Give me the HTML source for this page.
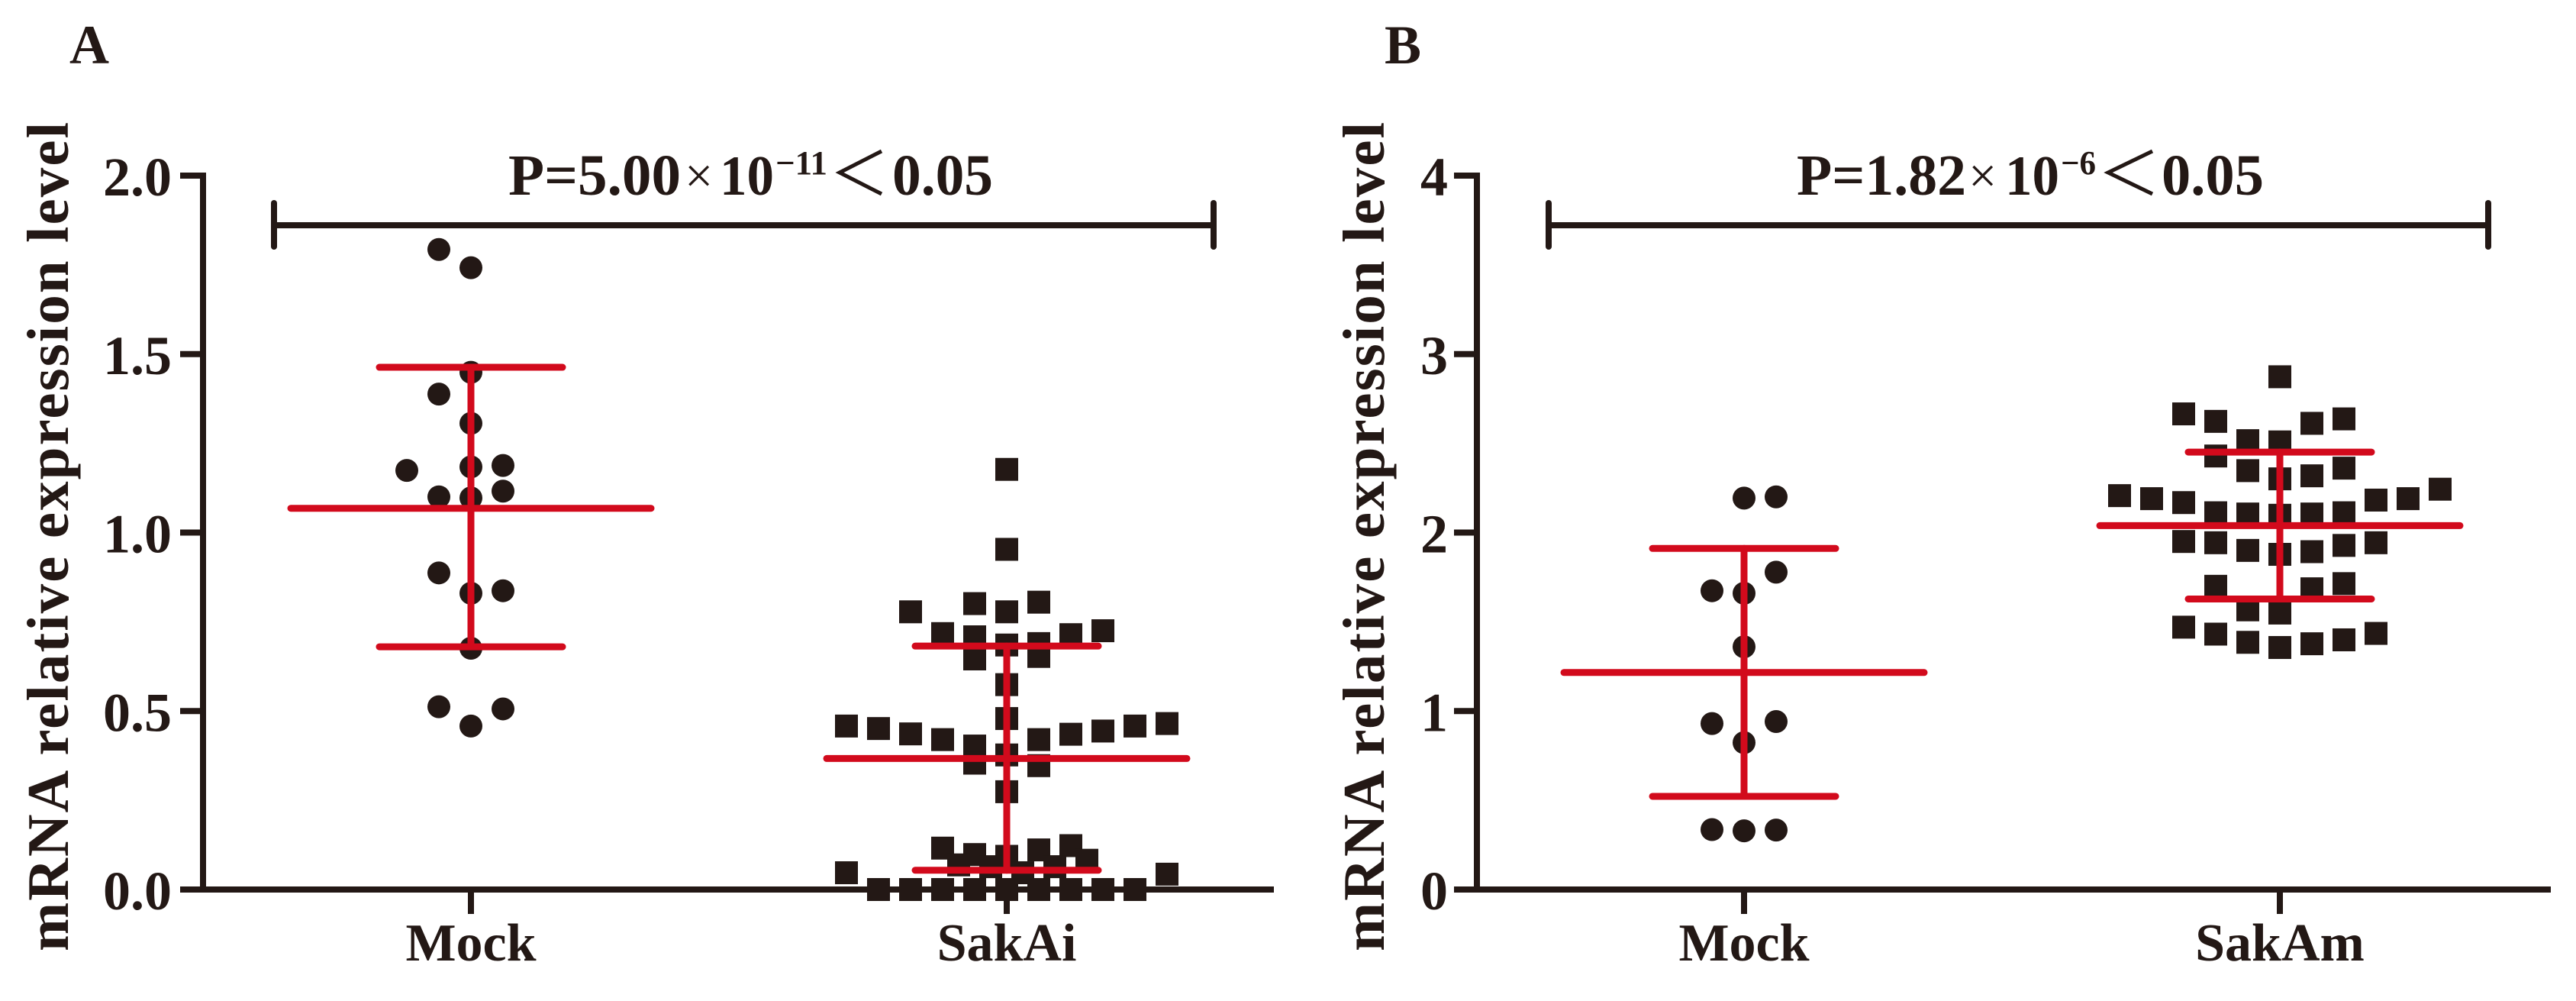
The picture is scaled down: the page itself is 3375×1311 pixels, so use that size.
<!DOCTYPE html>
<html lang="en">
<head>
<meta charset="utf-8">
<title>mRNA relative expression level</title>
<style>
  html, body { margin: 0; padding: 0; background: #fff; width: 3375px; height: 1311px; overflow: hidden; }
  svg { display: block; }
  text { font-family: "Liberation Serif", "Noto Serif CJK SC", serif; fill: #231815; }
  .b { font-weight: 700; }
  .thin { font-weight: 400; }
</style>
</head>
<body>
<svg id="figure" xmlns="http://www.w3.org/2000/svg" width="3375" height="1311" viewBox="0 0 3375 1311">
  <rect width="3375" height="1311" fill="#fff"/>

  <text class="b" x="91" y="83" font-size="72">A</text>
  <text class="b" x="1814" y="83" font-size="72">B</text>

  <text class="b" font-size="77" transform="translate(89,1246) rotate(-90)" textLength="1086" lengthAdjust="spacing">mRNA relative expression level</text>
  <text class="b" font-size="77" transform="translate(1813,1246) rotate(-90)" textLength="1086" lengthAdjust="spacing">mRNA relative expression level</text>

  <g>
    <text class="b" x="666" y="255" font-size="76" textLength="226" lengthAdjust="spacingAndGlyphs">P=5.00</text>
    <text class="thin" x="897" y="252" font-size="66">×</text>
    <text class="b" x="943" y="255" font-size="74" textLength="71" lengthAdjust="spacingAndGlyphs">10</text>
    <text class="b" x="1016" y="228" font-size="44" textLength="68" lengthAdjust="spacingAndGlyphs">−11</text>
    <polyline points="1155,198 1100,226 1155,254" fill="none" stroke="#231815" stroke-width="5"/>
    <text class="b" x="1169" y="255" font-size="76" textLength="132" lengthAdjust="spacingAndGlyphs">0.05</text>
  </g>
  <g>
    <text class="b" x="2354" y="255" font-size="76" textLength="222" lengthAdjust="spacingAndGlyphs">P=1.82</text>
    <text class="thin" x="2579" y="252" font-size="66">×</text>
    <text class="b" x="2627" y="255" font-size="74" textLength="71" lengthAdjust="spacingAndGlyphs">10</text>
    <text class="b" x="2700" y="228" font-size="44" textLength="46" lengthAdjust="spacingAndGlyphs">−6</text>
    <polyline points="2820,198 2762,226 2820,254" fill="none" stroke="#231815" stroke-width="5"/>
    <text class="b" x="2832" y="255" font-size="76" textLength="134" lengthAdjust="spacingAndGlyphs">0.05</text>
  </g>

  <g id="bracket-a" fill="none" stroke="#231815" stroke-width="8" stroke-linecap="round">
    <line x1="359" y1="295" x2="1590" y2="295"/>
    <line x1="359" y1="266" x2="359" y2="323"/>
    <line x1="1590" y1="266" x2="1590" y2="323"/>
  </g>
  <g id="bracket-b" fill="none" stroke="#231815" stroke-width="8" stroke-linecap="round">
    <line x1="2029" y1="295" x2="3260" y2="295"/>
    <line x1="2029" y1="266" x2="2029" y2="323"/>
    <line x1="3260" y1="266" x2="3260" y2="323"/>
  </g>

  <g id="plot-a"></g>
  <g id="plot-b"></g>
</svg>

<script>
// Panel A data
const panelACategories = ['Mock', 'SakAi'];
const panelATicks = [0, 0.5, 1, 1.5, 2];
const panelATickLabels = ['0.0', '0.5', '1.0', '1.5', '2.0'];
const mockAValues = [1.793, 1.742, 1.449, 1.388, 1.306, 1.174, 1.184, 1.188, 1.100, 1.097, 1.116, 0.887, 0.830, 0.837, 0.676, 0.512, 0.458, 0.506];
const mockASwarm  = [-1, 0, 0, -1, 0, -2, 0, 1, -1, 0, 1, -1, 0, 1, 0, -1, 0, 1];
const mockAStats = { mean: 1.068, upper: 1.463, lower: 0.680 };
const sakAiValues = [1.177, 0.953, 0.778, 0.801, 0.778, 0.805, 0.717, 0.708, 0.685, 0.689, 0.714, 0.725, 0.646, 0.653, 0.574, 0.479, 0.458, 0.451, 0.436, 0.420, 0.402, 0.377, 0.420, 0.435, 0.444, 0.458, 0.465, 0.354, 0.347, 0.274, 0.116, 0.098, 0.093, 0.111, 0.123, 0.082, 0.069, 0.064, 0.047, 0.064, 0.047, 0.043, 0, 0, 0, 0, 0, 0, 0, 0, 0];
const sakAiSwarm  = [0, 0, -3, -1, 0, 1, -2, -1, 0, 1, 2, 3, -1, 1, 0, 0, -5, -4, -3, -2, -1, 0, 1, 2, 3, 4, 5, -1, 1, 0, -2, -1, 0, 1, 2, 2.5, -1.5, -0.5, 0.5, 1.5, -5, 5, -4, -3, -2, -1, 0, 1, 2, 3, 4];
const sakAiStats = { mean: 0.367, upper: 0.682, lower: 0.054 };

// Panel B data
const panelBCategories = ['Mock', 'SakAm'];
const panelBTicks = [0, 1, 2, 3, 4];
const panelBTickLabels = ['0', '1', '2', '3', '4'];
const mockBValues = [2.193, 2.200, 1.778, 1.674, 1.660, 1.360, 0.930, 0.941, 0.823, 0.336, 0.329, 0.333];
const mockBSwarm  = [0, 1, 1, -1, 0, 0, -1, 1, 0, -1, 0, 1];
const mockBStats = { mean: 1.216, upper: 1.911, lower: 0.522 };
const sakAmValues = [2.873, 2.665, 2.623, 2.612, 2.637, 2.515, 2.508, 2.429, 2.347, 2.301, 2.318, 2.361, 2.207, 2.190, 2.168, 2.111, 2.104, 2.097, 2.104, 2.111, 2.182, 2.190, 2.243, 1.950, 1.943, 1.900, 1.878, 1.893, 1.928, 1.943, 1.699, 1.685, 1.714, 1.567, 1.549, 1.470, 1.431, 1.385, 1.356, 1.377, 1.399, 1.435];
const sakAmSwarm  = [0, -3, -2, 1, 2, -1, 0, -2, -1, 0, 1, 2, -5, -4, -3, -2, -1, 0, 1, 2, 3, 4, 5, -3, -2, -1, 0, 1, 2, 3, -2, 1, 2, -1, 0, -3, -2, -1, 0, 1, 2, 3];
const sakAmStats = { mean: 2.039, upper: 2.451, lower: 1.628 };

const INK = '#231815';
const RED = '#d20a1c';
const SVG_NS = 'http://www.w3.org/2000/svg';

function make(tag, attrs, parent) {
  const el = document.createElementNS(SVG_NS, tag);
  for (const k in attrs) el.setAttribute(k, attrs[k]);
  parent.appendChild(el);
  return el;
}

function drawPanel(p) {
  const root = document.getElementById(p.id);
  const y = v => p.y0 - (v / p.yMax) * p.yLen;
  const x = i => p.xStart + i * p.xStep;
  const stroke = { stroke: INK, 'stroke-width': 8, 'stroke-linecap': 'butt' };

  const yAxis = make('line', Object.assign({ x1: p.axisX, y1: y(p.yMax) - 4, x2: p.axisX, y2: p.y0 + 4 }, stroke), root);
  
  

  const xAxis = make('line', Object.assign({ x1: p.axisX - 28, y1: p.y0, x2: p.xEnd, y2: p.y0 }, stroke), root);
  
  

  p.ticks.forEach((t, i) => {
    const tick = make('line', Object.assign({ x1: p.axisX - 30, y1: y(t), x2: p.axisX, y2: y(t) }, stroke), root);
    
    
    const label = make('text', { x: p.tickLabelX, y: y(t) + 26, 'text-anchor': 'end', 'font-size': 72, class: 'b' }, root);
    
    
    label.textContent = p.tickLabels[i];
  });

  p.categories.forEach((c, i) => {
    const tick = make('line', Object.assign({ x1: x(i), y1: p.y0, x2: x(i), y2: p.y0 + 32 }, stroke), root);
    
    
    const label = make('text', { x: x(i), y: 1258, 'text-anchor': 'middle', 'font-size': 70, class: 'b' }, root);
    
    
    label.textContent = c;
  });

  // Points: circles for Mock (first group), squares for treatment (second group)
  p.groups.forEach((g, i) => {
    g.values.forEach((v, k) => {
      const px = x(i) + g.swarm[k] * p.slotWidth;
      let mark;
      if (i === 0) {
        mark = make('circle', { cx: px, cy: y(v), r: 15, fill: INK }, root);
        
      } else {
        mark = make('rect', { x: px - 15, y: y(v) - 15, width: 30, height: 30, fill: INK }, root);
        
      }
      
    });
  });

  // Mean line and SD error bars
  p.groups.forEach((g, i) => {
    const red = { stroke: RED, 'stroke-width': 9, 'stroke-linecap': 'round' };
    const cx = x(i);
    const stem = make('line', Object.assign({ x1: cx, y1: y(g.stats.upper), x2: cx, y2: y(g.stats.lower) }, red), root);
    
    
    const mean = make('line', Object.assign({ x1: cx - 236, y1: y(g.stats.mean), x2: cx + 236, y2: y(g.stats.mean) }, red), root);
    
    
    const up = make('line', Object.assign({ x1: cx - 120, y1: y(g.stats.upper), x2: cx + 120, y2: y(g.stats.upper) }, red), root);
    
    
    const low = make('line', Object.assign({ x1: cx - 120, y1: y(g.stats.lower), x2: cx + 120, y2: y(g.stats.lower) }, red), root);
    
    
  });
}

drawPanel({
  id: 'plot-a', axisX: 266, xEnd: 1669, y0: 1165, yLen: 935, yMax: 2,
  xStart: 617, xStep: 702, slotWidth: 42, tickLabelX: 225,
  ticks: panelATicks, tickLabels: panelATickLabels, categories: panelACategories,
  groups: [
    { values: mockAValues, swarm: mockASwarm, stats: mockAStats },
    { values: sakAiValues, swarm: sakAiSwarm, stats: sakAiStats }
  ]
});

drawPanel({
  id: 'plot-b', axisX: 1935, xEnd: 3342, y0: 1165, yLen: 935, yMax: 4,
  xStart: 2285, xStep: 702, slotWidth: 42, tickLabelX: 1897,
  ticks: panelBTicks, tickLabels: panelBTickLabels, categories: panelBCategories,
  groups: [
    { values: mockBValues, swarm: mockBSwarm, stats: mockBStats },
    { values: sakAmValues, swarm: sakAmSwarm, stats: sakAmStats }
  ]
});
</script>
</body>
</html>
